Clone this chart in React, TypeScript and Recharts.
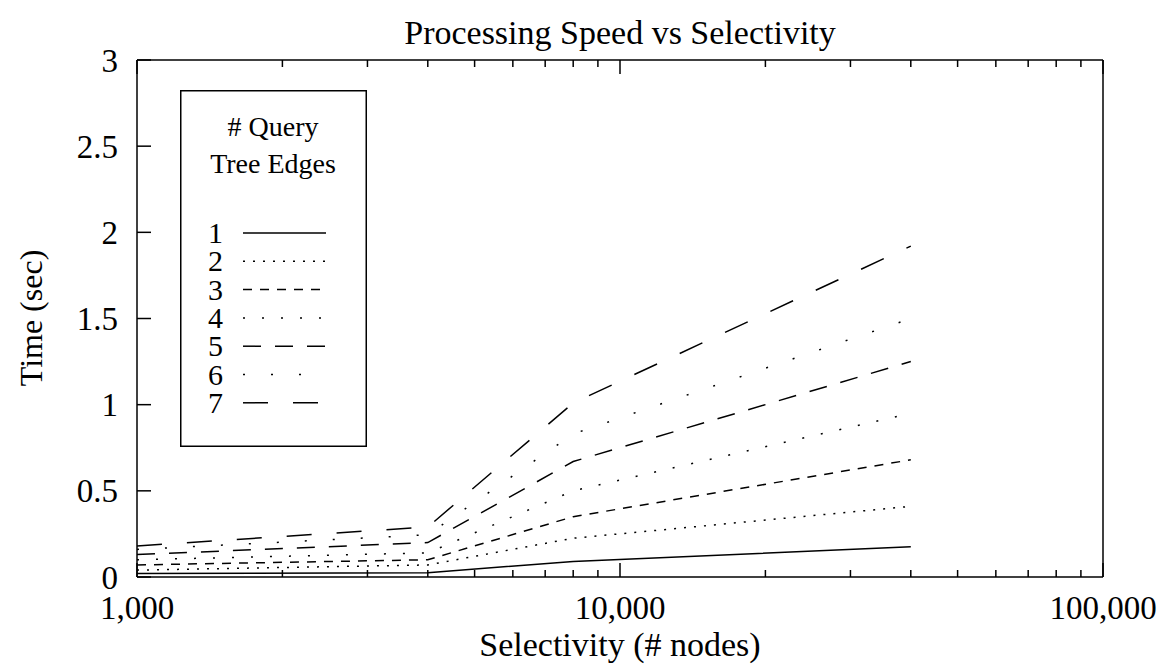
import { LineChart, Line, XAxis, YAxis, Legend } from "recharts";

// selectivity (# nodes) on the x axis
const selectivity = [1000, 4000, 8000, 40000];

// time (sec) per number of query tree edges
const edges1 = [0.02, 0.025, 0.09, 0.175];
const edges2 = [0.04, 0.07, 0.225, 0.41];
const edges3 = [0.07, 0.1, 0.35, 0.68];
const edges4 = [0.1, 0.14, 0.5, 0.95];
const edges5 = [0.13, 0.2, 0.67, 1.25];
const edges6 = [0.16, 0.245, 0.83, 1.5];
const edges7 = [0.18, 0.29, 1.01, 1.92];

const seriesNames = ["1", "2", "3", "4", "5", "6", "7"];
const majorXTicks = [1000, 10000, 100000];
const minorXTicks = [
  2000, 3000, 4000, 5000, 6000, 7000, 8000, 9000,
  20000, 30000, 40000, 50000, 60000, 70000, 80000, 90000,
];
const yTicks = [0, 0.5, 1, 1.5, 2, 2.5, 3];

const allSeries = [edges1, edges2, edges3, edges4, edges5, edges6, edges7];
const dashes = ["0", "2 8", "9 8", "2 17", "18 14", "2 26", "25 25"];

const data = selectivity.map((x, i) => {
  const row: Record<string, number> = { x };
  allSeries.forEach((s, k) => {
    row[`e${k + 1}`] = s[i];
  });
  return row;
});

const FONT = "'Liberation Serif', 'Times New Roman', serif";
const xTicks = [...majorXTicks, ...minorXTicks].sort((a, b) => a - b);

function BottomTick(props: any) {
  const { x, y, payload } = props;
  const major = majorXTicks.includes(payload.value);
  return (
    <g>
      <line x1={x} x2={x} y1={y} y2={y - (major ? 14 : 7)} stroke="#000" strokeWidth={1.5} />
      {major && (
        <text x={x} y={y + 42} textAnchor="middle" fontSize={33} fontFamily={FONT} fill="#000">
          {payload.value.toLocaleString("en-US")}
        </text>
      )}
    </g>
  );
}

function TopTick(props: any) {
  const { x, y, payload } = props;
  const major = majorXTicks.includes(payload.value);
  return <line x1={x} x2={x} y1={y} y2={y + (major ? 14 : 7)} stroke="#000" strokeWidth={1.5} />;
}

function LeftTick(props: any) {
  const { x, y, payload } = props;
  return (
    <g>
      <line x1={x} x2={x + 14} y1={y} y2={y} stroke="#000" strokeWidth={1.5} />
      <text x={x - 19} y={y} dy="0.35em" textAnchor="end" fontSize={33} fontFamily={FONT} fill="#000">
        {payload.value}
      </text>
    </g>
  );
}

function RightTick(props: any) {
  const { x, y } = props;
  return <line x1={x} x2={x - 14} y1={y} y2={y} stroke="#000" strokeWidth={1.5} />;
}

function LegendBox() {
  return (
    <svg width={187} height={357} style={{ display: "block" }}>
      <rect x={0.75} y={0.75} width={185.5} height={355.5} fill="#fff" stroke="#000" strokeWidth={1.5} />
      <text x={93} y={46} textAnchor="middle" fontSize={28} fontFamily={FONT}>
        # Query
      </text>
      <text x={93} y={83} textAnchor="middle" fontSize={28} fontFamily={FONT}>
        Tree Edges
      </text>
      {seriesNames.map((name, i) => (
        <g key={name}>
          <text x={28} y={153 + i * 28.3} fontSize={30} fontFamily={FONT}>
            {name}
          </text>
          <line
            x1={63}
            x2={146}
            y1={143 + i * 28.3}
            y2={143 + i * 28.3}
            stroke="#000"
            strokeWidth={1.5}
            strokeDasharray={dashes[i]}
          />
        </g>
      ))}
    </svg>
  );
}

export default function App() {
  return (
    <div style={{ position: "relative", width: 1169, height: 668, background: "#fff" }}>
      <style>{"body{margin:0}"}</style>
      <LineChart
        width={1169}
        height={668}
        data={data}
        margin={{ top: 50, right: 56, bottom: 31, left: 77 }}
      >
        <XAxis
          xAxisId="bottom"
          dataKey="x"
          type="number"
          scale="log"
          domain={[1000, 100000]}
          allowDataOverflow
          ticks={xTicks}
          interval={0}
          height={60}
          tickSize={0}
          tickMargin={0}
          axisLine={{ stroke: "#000", strokeWidth: 1.5 }}
          tick={<BottomTick />}
        />
        <XAxis
          xAxisId="top"
          orientation="top"
          dataKey="x"
          type="number"
          scale="log"
          domain={[1000, 100000]}
          allowDataOverflow
          ticks={xTicks}
          interval={0}
          height={10}
          tickSize={0}
          tickMargin={0}
          axisLine={{ stroke: "#000", strokeWidth: 1.5 }}
          tick={<TopTick />}
        />
        <YAxis
          yAxisId="left"
          type="number"
          domain={[0, 3]}
          ticks={yTicks}
          interval={0}
          width={60}
          tickSize={0}
          tickMargin={0}
          axisLine={{ stroke: "#000", strokeWidth: 1.5 }}
          tick={<LeftTick />}
        />
        <YAxis
          yAxisId="right"
          orientation="right"
          type="number"
          domain={[0, 3]}
          ticks={yTicks}
          interval={0}
          width={10}
          tickSize={0}
          tickMargin={0}
          axisLine={{ stroke: "#000", strokeWidth: 1.5 }}
          tick={<RightTick />}
        />
        <Legend
          layout="horizontal"
          verticalAlign="middle"
          align="center"
          content={() => <LegendBox />}
          wrapperStyle={{ position: "absolute", left: 180, top: 90, width: 187, height: 357 }}
        />
        {seriesNames.map((name, i) => (
          <Line
            key={name}
            name={name}
            xAxisId="bottom"
            yAxisId="left"
            dataKey={`e${i + 1}`}
            stroke="#000"
            strokeWidth={1.5}
            strokeDasharray={dashes[i]}
            dot={false}
            activeDot={false}
            isAnimationActive={false}
          />
        ))}
      </LineChart>
      <svg
        width={1169}
        height={668}
        style={{ position: "absolute", left: 0, top: 0, pointerEvents: "none" }}
      >
        <text x={620} y={44} textAnchor="middle" fontSize={34} fontFamily={FONT}>
          Processing Speed vs Selectivity
        </text>
        <text x={620} y={656} textAnchor="middle" fontSize={34} fontFamily={FONT}>
          Selectivity (# nodes)
        </text>
        <text
          x={42}
          y={318}
          transform="rotate(-90 42 318)"
          textAnchor="middle"
          fontSize={32}
          fontFamily={FONT}
        >
          Time (sec)
        </text>
      </svg>
    </div>
  );
}
